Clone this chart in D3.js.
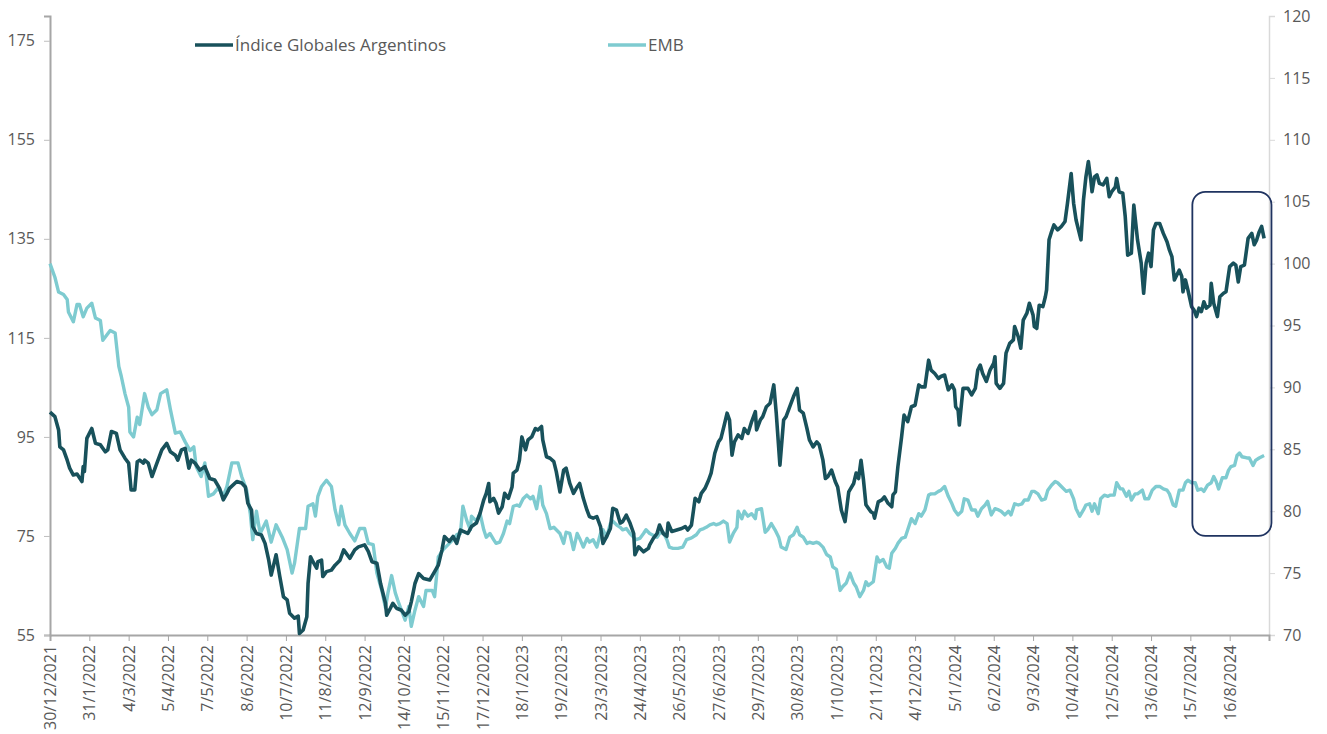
<!DOCTYPE html>
<html><head><meta charset="utf-8">
<script src="https://cdn.jsdelivr.net/npm/d3@7"></script>
<style>
html,body{margin:0;padding:0;background:#fff;}
svg{display:block;font-family:"Open Sans",Lato,sans-serif;}
</style></head>
<body><svg id="chart" width="1327" height="734"></svg>
<script>
// ---- data ----
const startDate = "30/12/2021";
const axisEndDate = "17/9/2024";
const xTickLabels = ["30/12/2021","31/1/2022","4/3/2022","5/4/2022","7/5/2022","8/6/2022","10/7/2022","11/8/2022","12/9/2022","14/10/2022","15/11/2022","17/12/2022","18/1/2023","19/2/2023","23/3/2023","24/4/2023","26/5/2023","27/6/2023","29/7/2023","30/8/2023","1/10/2023","2/11/2023","4/12/2023","5/1/2024","6/2/2024","9/3/2024","10/4/2024","12/5/2024","13/6/2024","15/7/2024","16/8/2024"];
const leftTicks = [55,75,95,115,135,155,175];
const rightTicks = [70,75,80,85,90,95,100,105,110,115,120];
const seriesNames = ["Índice Globales Argentinos","EMB"];

// days since 30/12/2021 and index values (base 100)
const igaDays = [0,4,7,8,11,14,16,19,22,26,27,28,30,34,37,41,45,47,50,54,57,61,64,66,69,71,73,76,77,80,83,87,91,95,98,102,104,107,110,113,115,118,122,126,130,134,138,141,144,146,152,156,159,161,164,165,168,172,175,178,180,184,187,190,193,195,199,202,203,206,209,210,212,214,217,218,221,222,225,229,232,236,239,244,248,251,256,259,262,266,269,273,274,277,279,282,286,289,292,294,297,300,304,309,313,316,319,321,325,328,331,334,340,343,347,350,353,355,357,358,361,363,365,368,370,373,376,377,380,382,384,387,389,392,395,397,400,401,404,407,410,412,415,418,420,423,426,429,431,434,437,439,442,445,448,450,453,456,458,461,464,466,469,472,475,476,479,483,487,488,491,494,496,499,502,503,506,510,514,517,519,522,525,528,530,533,536,538,541,544,546,549,551,553,555,557,560,563,565,568,571,574,575,578,580,583,586,589,591,594,597,599,602,605,608,610,613,616,618,621,624,626,629,631,633,636,639,641,644,647,650,654,656,658,660,662,664,666,668,670,671,674,677,679,682,685,686,688,690,693,695,698,701,704,707,709,712,715,717,720,723,725,728,731,734,736,737,739,740,743,747,750,753,755,757,759,762,765,768,769,770,773,776,778,781,784,785,788,790,792,795,797,800,801,803,805,808,810,811,813,815,817,820,823,826,828,831,833,835,839,841,843,845,847,848,850,852,854,857,860,862,864,867,868,870,873,875,877,880,882,885,888,890,892,894,896,898,900,903,906,909,911,913,915,919,921,922,924,926,929,931,933,935,937,939,941,944,945,947,950,952,955,957,960,963,965,967,969,972,975,978,980,982,984,986,988];
const igaValues = [100,99.1,96.4,93.0,92.4,90.3,88.7,87.3,87.5,86.0,89.0,88.0,94.7,96.7,93.7,93.4,92.0,92.4,96.1,95.7,92.4,90.7,89.7,84.3,84.3,90.0,90.3,89.7,90.3,89.7,87.0,89.7,92.4,93.7,92.0,91.3,90.3,92.4,92.7,88.7,90.3,89.7,88.3,89.0,86.6,86.3,84.6,82.3,83.6,84.6,86.0,85.7,84.9,81.6,80.2,76.9,75.5,75.2,73.5,70.1,67.1,71.2,66.8,62.7,62.1,59.4,58.4,58.8,55.3,56.0,58.7,65.4,70.8,69.8,68.5,69.8,70.1,66.8,67.8,68.1,69.1,70.1,72.2,70.5,72.2,72.8,73.2,71.9,69.8,69.5,65.4,61.4,59.0,60.4,61.4,60.4,60.0,59.0,59.7,61.7,65.4,67.4,66.4,66.1,67.8,69.1,72.2,74.9,73.9,74.9,73.5,76.2,75.5,76.9,77.6,79.6,82.3,83.6,85.6,81.9,82.6,81.6,79.6,80.9,83.6,82.6,84.9,87.7,88.3,90.3,95.0,92.4,94.4,95.0,96.7,96.4,97.1,94.4,91.0,90.7,90.0,88.0,83.9,88.3,88.7,85.6,83.6,84.9,85.6,82.6,80.2,78.9,78.6,78.9,76.9,73.5,74.9,76.5,80.6,80.2,77.6,77.9,79.2,77.6,75.5,71.2,72.8,71.8,72.5,73.2,74.5,75.5,77.2,75.5,74.9,77.6,75.9,76.2,76.5,76.9,76.2,77.2,82.6,81.9,83.6,84.6,86.3,87.7,91.7,94.0,94.7,97.7,99.8,98.4,91.3,94.0,95.4,94.7,96.7,95.7,98.1,100.1,96.4,98.4,99.1,101.1,101.8,105.5,99.8,89.3,98.4,99.1,101.1,103.1,104.8,100.4,99.8,96.7,94.4,93.0,94.0,93.4,90.3,86.6,87.0,88.3,86.0,84.9,80.2,77.9,83.9,85.6,87.7,86.6,90.3,86.3,81.3,80.6,79.9,79.6,78.6,81.9,82.3,82.9,81.6,80.9,83.3,83.9,89.0,95.0,99.4,98.1,101.1,101.4,105.5,105.1,105.1,110.5,108.5,107.8,106.8,107.2,107.5,104.5,105.5,104.5,101.1,100.4,97.4,104.8,104.8,103.5,104.8,108.5,109.5,107.8,106.2,108.5,109.9,111.2,105.8,104.8,105.8,111.9,113.9,114.6,117.3,115.2,112.9,118.6,120.0,122.0,119.6,117.3,116.9,121.6,121.3,123.3,124.7,134.8,136.4,137.8,136.8,137.5,138.5,142.2,148.2,142.2,138.8,134.8,142.8,147.5,150.6,146.9,144.5,147.5,147.9,146.2,145.9,147.2,143.5,144.5,145.5,147.2,144.5,144.2,139.5,131.7,132.1,141.8,134.8,130.1,124.0,130.1,132.1,129.4,136.8,138.1,138.1,136.1,134.4,132.7,131.4,126.7,128.7,127.4,124.3,126.7,124.7,121.3,120.6,119.3,121.0,120.3,122.3,121.0,121.6,126.0,122.0,119.3,123.3,124.0,124.3,129.4,130.1,129.7,126.3,129.4,129.7,135.1,136.1,133.8,134.8,136.4,137.5,135.1];

const embDays = [0,4,7,11,14,15,19,22,24,27,30,34,37,41,43,49,53,56,58,61,64,65,68,71,73,77,80,83,87,90,95,98,102,106,110,114,117,119,123,126,129,133,137,141,144,148,153,156,160,163,165,168,171,176,180,184,189,193,197,199,203,208,210,214,216,218,221,225,229,232,235,237,240,244,248,252,256,259,263,266,270,273,275,278,281,283,286,289,292,294,297,300,304,306,311,313,316,320,325,328,331,334,336,339,342,343,347,350,353,355,358,361,363,366,369,372,374,377,380,382,385,388,391,393,396,399,401,404,407,410,412,415,418,420,423,426,429,431,434,437,439,442,445,448,450,453,456,458,461,464,466,469,472,475,477,480,483,485,488,494,496,499,502,504,507,511,515,518,521,523,526,529,532,534,537,540,542,545,548,551,553,556,559,560,563,565,568,571,574,575,579,582,584,587,590,593,595,599,602,605,608,610,613,616,618,621,624,626,629,632,635,637,640,643,645,648,651,654,656,659,662,664,666,670,673,675,678,681,683,685,688,690,693,696,698,701,704,707,709,712,715,717,720,723,725,728,731,734,736,739,742,744,747,750,753,755,758,761,763,766,769,772,774,777,780,782,785,788,791,793,796,799,801,804,807,810,812,815,818,820,823,827,830,833,835,838,841,843,846,848,850,853,855,858,861,863,866,868,871,873,876,878,880,883,885,889,891,894,897,900,903,906,909,911,914,916,919,922,924,926,929,932,934,937,939,942,945,947,949,951,954,957,959,961,964,966,968,970,974,976,979,981,984,986,988];
const embValues = [100.0,98.9,97.7,97.5,97.1,96.1,95.3,96.7,96.7,95.7,96.4,96.8,95.6,95.4,93.8,94.6,94.4,91.7,90.9,89.5,88.4,86.4,86.0,87.6,87.0,89.5,88.4,87.8,88.2,89.5,89.8,88.2,86.3,86.4,85.6,84.9,85.2,83.6,82.8,83.9,81.2,81.4,81.9,81.2,82.0,83.9,83.9,82.8,81.7,79.8,77.7,80.0,78.2,79.2,77.5,78.9,77.9,76.9,75.0,75.8,78.6,78.6,80.4,80.6,79.6,81.2,82.0,82.5,82.0,80.1,78.9,80.4,78.9,78.2,77.6,78.6,78.6,77.4,77.3,75.0,73.6,72.2,73.4,74.8,73.4,72.8,72.0,71.2,72.3,70.7,72.0,73.1,72.3,73.6,73.6,73.1,76.3,76.9,77.4,77.7,78.1,78.2,80.4,79.3,78.5,79.6,79.2,79.8,78.5,77.9,78.2,77.7,77.4,77.5,78.2,79.2,79.0,80.4,80.5,80.4,81.0,81.3,81.0,81.2,80.2,82.0,80.5,79.8,78.6,78.7,78.5,78.2,77.4,78.3,78.2,76.9,78.2,77.8,77.1,77.8,77.5,77.7,77.1,78.2,78.5,77.9,79.0,79.2,78.9,78.7,78.5,78.6,78.2,77.9,77.7,77.8,78.2,78.5,78.2,77.9,78.2,78.3,77.7,77.1,77.0,77.0,77.1,77.7,77.8,77.9,78.1,78.5,78.6,78.7,78.9,79.0,78.9,79.0,79.2,79.0,77.5,78.2,78.7,80.0,79.4,80.0,79.6,79.8,79.4,80.1,80.2,78.3,78.5,79.0,78.5,77.9,77.1,76.9,77.9,78.1,78.7,78.1,77.9,77.4,77.5,77.4,77.5,77.4,77.1,76.5,76.3,75.5,75.3,73.6,73.9,74.2,75.0,74.2,73.9,73.1,73.6,74.3,74.0,74.3,76.3,75.9,76.1,75.5,75.4,76.6,77.0,77.4,77.8,77.9,78.5,79.4,79.0,79.8,79.6,80.1,81.3,81.4,81.4,81.6,81.7,82.0,81.2,80.6,80.1,79.7,80.0,81.0,80.9,80.1,80.1,79.6,80.2,80.5,80.8,79.7,80.2,80.1,80.0,79.7,80.0,79.7,80.6,80.5,80.6,80.9,80.9,81.6,81.6,81.4,80.9,81.0,81.7,82.1,82.4,82.3,82.0,81.6,81.7,81.0,80.2,79.6,80.1,80.5,80.6,80.0,80.6,79.8,81.0,81.3,81.2,81.3,81.3,82.3,81.8,81.8,81.2,81.6,80.9,81.4,81.4,81.7,81.0,81.0,81.7,82.0,82.0,81.8,81.7,81.4,80.5,80.4,81.7,81.7,82.3,82.5,82.3,82.3,81.7,81.8,81.6,82.1,82.3,82.8,82.4,81.8,82.7,82.7,83.3,83.6,83.7,84.5,84.7,84.4,84.3,84.3,83.7,84.1,84.3,84.4,84.5];

// highlighted period (annotation box)
const highlightStart = "15/7/2024";
const highlightEnd = "19/9/2024";
const highlightRange = [78, 105.8]; // right-axis units

// ---- drawing ----
const FONT = "'Open Sans',Lato,sans-serif";
const parse = d3.utcParse("%d/%m/%Y");
const t0 = parse(startDate);
const svg = d3.select("#chart");
const X0 = 50, X1 = 1269, YT = 16, YB = 635;

const x = d3.scaleUtc().domain([t0, parse(axisEndDate)]).range([X0, X1]);
const yL = d3.scaleLinear().domain([55, 180]).range([YB, YT]);
const yR = d3.scaleLinear().domain([70, 120]).range([YB, YT]);

const iga = igaDays.map((d, i) => ({date: d3.utcDay.offset(t0, d), v: igaValues[i]}));
const emb = embDays.map((d, i) => ({date: d3.utcDay.offset(t0, d), v: embValues[i]}));

const txtColor = "#595959";

// left axis
const gL = svg.append("g").attr("transform", `translate(${X0},0)`)
  .call(d3.axisLeft(yL).tickValues(leftTicks).tickSize(6).tickPadding(9));
gL.select(".domain").attr("stroke", "#a6a6a6").attr("stroke-width", 2);
gL.selectAll(".tick line").attr("stroke", "#bfbfbf");
gL.selectAll("text").attr("fill", txtColor).style("font-size", "16px").style("font-family", FONT);

// right axis
const gR = svg.append("g").attr("transform", `translate(${X1},0)`)
  .call(d3.axisRight(yR).tickValues(rightTicks).tickSize(6).tickPadding(8));
gR.select(".domain").attr("stroke", "#d9d9d9").attr("stroke-width", 1.5);
gR.selectAll(".tick line").attr("stroke", "#d9d9d9");
gR.selectAll("text").attr("fill", txtColor).style("font-size", "16px").style("font-family", FONT);

// bottom axis
const gB = svg.append("g").attr("transform", `translate(0,${YB})`)
  .call(d3.axisBottom(x).tickValues(xTickLabels.map(parse)).tickFormat((d, i) => xTickLabels[i]).tickSize(6));
gB.select(".domain").attr("stroke", "#a6a6a6").attr("stroke-width", 2);
gB.selectAll(".tick line").attr("stroke", "#a6a6a6");
gB.selectAll("text")
  .attr("fill", txtColor).style("font-size", "16px").style("font-family", FONT)
  .attr("transform", "rotate(-90)")
  .attr("text-anchor", "end")
  .attr("x", -10).attr("y", 0).attr("dy", "0.35em");

// lines
const lineL = d3.line().x(d => x(d.date)).y(d => yL(d.v));
const lineR = d3.line().x(d => x(d.date)).y(d => yR(d.v));
svg.append("path").datum(emb).attr("d", lineR).attr("fill", "none")
  .attr("stroke", "#7ecbd0").attr("stroke-width", 3.4).attr("stroke-linejoin", "round");
svg.append("path").datum(iga).attr("d", lineL).attr("fill", "none")
  .attr("stroke", "#18515b").attr("stroke-width", 3.6).attr("stroke-linejoin", "round");

// annotation box
const bx0 = x(parse(highlightStart)) + 2, bx1 = x(parse(highlightEnd));
svg.append("rect")
  .attr("x", bx0).attr("y", yR(highlightRange[1]))
  .attr("width", bx1 - bx0).attr("height", yR(highlightRange[0]) - yR(highlightRange[1]))
  .attr("rx", 13).attr("ry", 13)
  .attr("fill", "none").attr("stroke", "#1f3360").attr("stroke-width", 1.8);

// legend
const legend = [
  {name: seriesNames[0], color: "#18515b", x: 195},
  {name: seriesNames[1], color: "#7ecbd0", x: 608}
];
legend.forEach(l => {
  svg.append("line").attr("x1", l.x).attr("x2", l.x + 38).attr("y1", 45).attr("y2", 45)
    .attr("stroke", l.color).attr("stroke-width", 3.5);
  svg.append("text").attr("x", l.x + 40).attr("y", 45).attr("dy", "0.35em")
    .attr("fill", txtColor).style("font-size", "17px").style("font-family", FONT).text(l.name);
});
</script></body></html>
